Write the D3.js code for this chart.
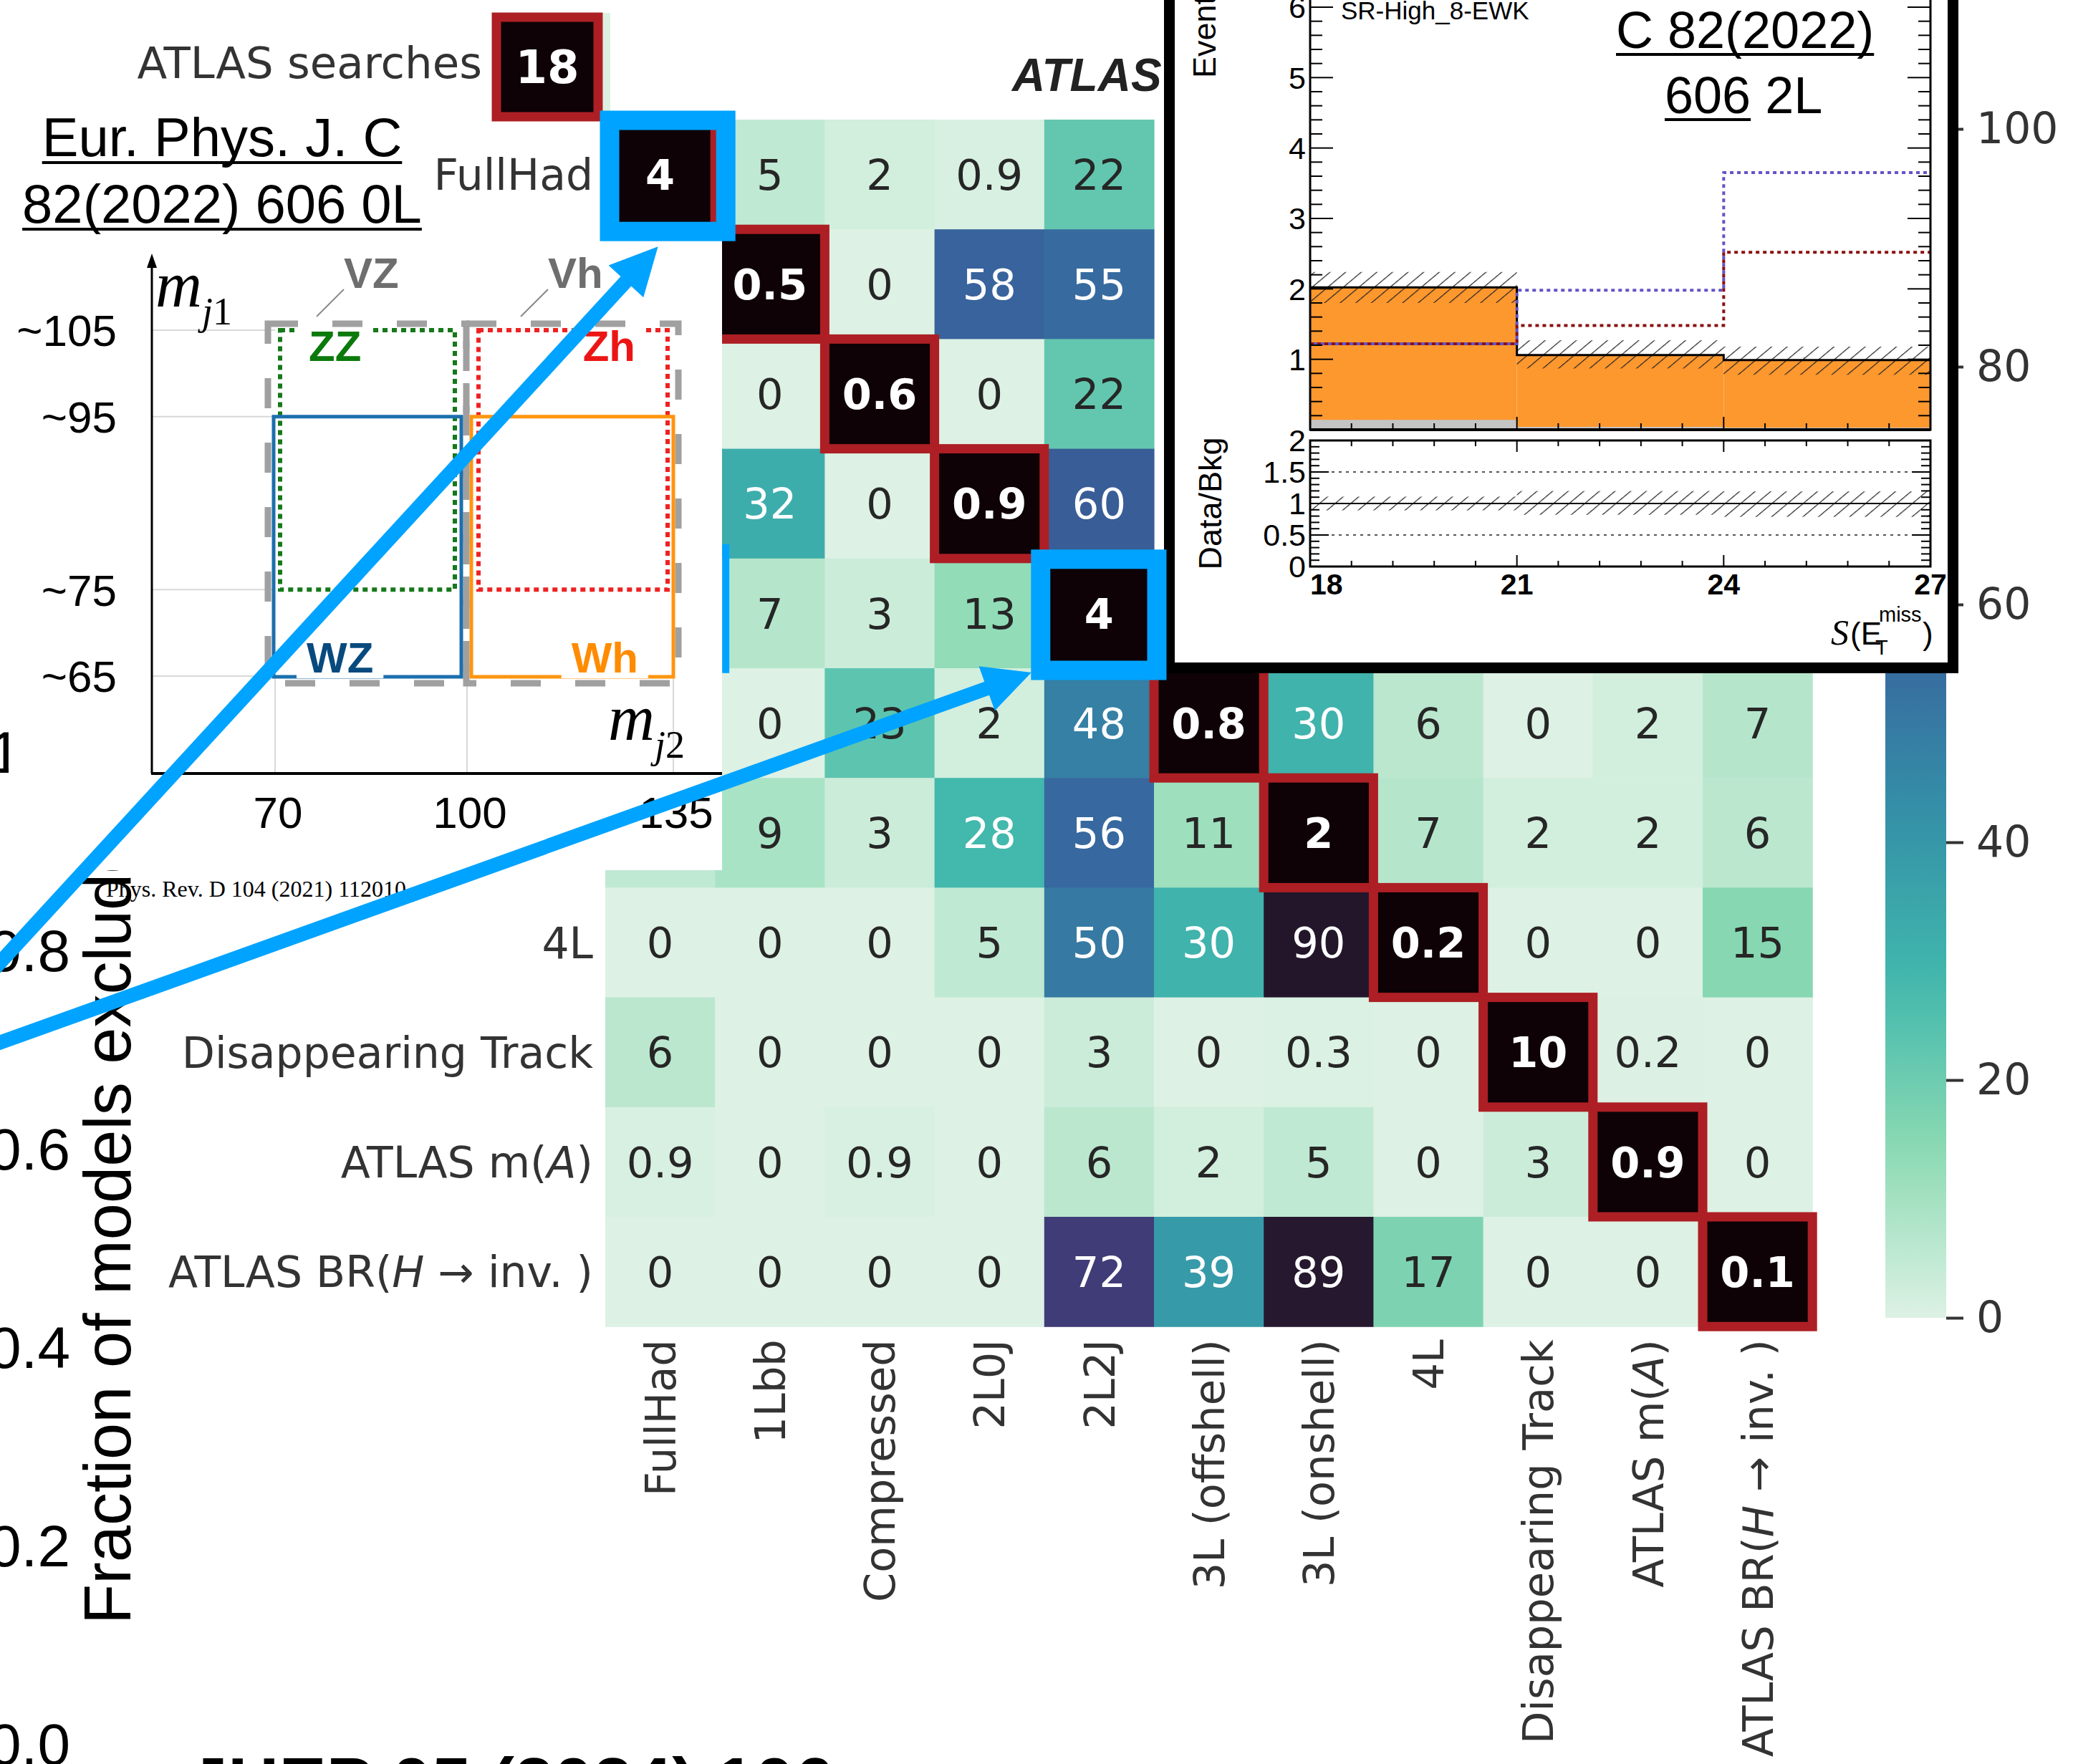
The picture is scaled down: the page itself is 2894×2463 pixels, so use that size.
<!DOCTYPE html>
<html>
<head>
<meta charset="utf-8">
<script src="https://cdn.jsdelivr.net/npm/d3@7/dist/d3.min.js"></script>
<style>
  body { margin: 0; background: #fff; }
</style>
</head>
<body>
<div id="chart"></div>
<script>
// searches on both axes of the overlap matrix ($..$ = italic)
var searches = ["FullHad", "1Lbb", "Compressed", "2L0J", "2L2J", "3L (offshell)", "3L (onshell)", "4L",
  "Disappearing Track", "ATLAS m($A$)", "ATLAS BR($H$ → inv. )"];
// overlap in %, null = cell hidden under the pasted insets
var overlap = [
  [4, 5, 2, 0.9, 22, null, null, null, null, null, null],
  [null, 0.5, 0, 58, 55, null, null, null, null, null, null],
  [null, 0, 0.6, 0, 22, null, null, null, null, null, null],
  [null, 32, 0, 0.9, 60, null, null, null, null, null, null],
  [null, 7, 3, 13, 4, null, null, null, null, null, null],
  [null, 0, 23, 2, 48, 0.8, 30, 6, 0, 2, 7],
  [5, 9, 3, 28, 56, 11, 2, 7, 2, 2, 6],
  [0, 0, 0, 5, 50, 30, 90, 0.2, 0, 0, 15],
  [6, 0, 0, 0, 3, 0, 0.3, 0, 10, 0.2, 0],
  [0.9, 0, 0.9, 0, 6, 2, 5, 0, 3, 0.9, 0],
  [0, 0, 0, 0, 72, 39, 89, 17, 0, 0, 0.1]
];
var highlighted = [0, 4];   // diagonal cells boxed in blue
var cbarTicks = [0, 20, 40, 60, 80, 100];
var fracTicks = [1.0, 0.8, 0.6, 0.4, 0.2, 0.0];

// mass-window sketch (0L paper)
var mj1Ticks = [65, 75, 95, 105];
var mj2Ticks = [70, 100, 135];
var windowNames = ["VZ", "Vh", "ZZ", "Zh", "WZ", "Wh"];
var windowJ2 = [[70, 100], [100, 135], [70, 100], [100, 135], [70, 100], [100, 135]];
var windowJ1 = [[65, 105], [65, 105], [75, 105], [75, 105], [65, 95], [65, 95]];

// SR-High_8-EWK histogram (2L paper)
var binEdges = [18, 21, 24, 27];
var bkgTotal = [2.02, 1.06, 0.99];
var bkgOther = [0.14, 0.04, 0.03];
var bkgUncLo = [1.80, 0.87, 0.78];
var bkgUncHi = [2.24, 1.27, 1.18];
var sigBlue = [1.22, 1.98, 3.65];
var sigRed = [1.22, 1.48, 2.52];
var eventTicks = [1, 2, 3, 4, 5, 6];
var ratioTicks = [0, 0.5, 1, 1.5, 2];
var ratioTickLabels = ["0", "0.5", "1", "1.5", "2"];
var metTicks = [18, 21, 24, 27];

var W = 2894, H = 2463;
var dejavu = "DejaVu Sans, sans-serif";
var helv = "Liberation Sans, Arial, sans-serif";
var serif = "Liberation Serif, Times New Roman, serif";
var blue = "#00a3ff";

// area covered by the pasted mass-window sketch
var sketch = { x0: 12, x1: 1008, y0: 320, y1: 1215 };
var underSketch = (px, py) => px > sketch.x0 && px < sketch.x1 && py > sketch.y0 && py < sketch.y1;

var svg = d3.select("#chart").append("svg").attr("width", W).attr("height", H);
svg.append("rect").attr("width", W).attr("height", H).attr("fill", "#fff");
var defs = svg.append("defs");

function richText(sel, str) {
  sel.each(function() {
    var t = d3.select(this);
    str.split("$").forEach(function(part, i) {
      if (!part) return;
      t.append("tspan").style("font-style", i % 2 ? "italic" : null).text(part);
    });
  });
}

// ---- leftover axis of the fraction plot (left edge) ----
var fy = d3.scaleLinear().domain([0, 1]).range([2434, 1049]);
svg.append("g").selectAll("text").data(fracTicks).join("text")
  .attr("x", 98).attr("y", d => fy(d)).attr("dy", "0.36em")
  .attr("text-anchor", "end")
  .style("font-family", helv).style("font-size", "82px")
  .text(d => d.toFixed(1));
svg.append("text")
  .attr("transform", "translate(182,2268) rotate(-90)")
  .style("font-family", helv).style("font-size", "92px")
  .text("Fraction of models excluded");

svg.append("text").attr("x", 263).attr("y", 2523)
  .style("font-family", helv).style("font-size", "99px").style("font-weight", "bold")
  .text("JHEP 05 (2024) 106");

svg.append("text").attr("x", 1413).attr("y", 127)
  .style("font-family", helv).style("font-size", "64px")
  .style("font-weight", "bold").style("font-style", "italic")
  .attr("fill", "#222").text("ATLAS");

// ---- overlap heatmap ----
var cell = 153.2, hx0 = 845, hy0 = 167;
var x = d3.scaleBand().domain(d3.range(searches.length)).range([hx0, hx0 + cell * searches.length]);
var y = d3.scaleBand().domain(d3.range(searches.length)).range([hy0, hy0 + cell * searches.length]);

// mako_r
var mako = ["#ddf1e4", "#8bdab2", "#40b7ad", "#348fa7", "#37659e", "#413d7b", "#2e1e3b", "#0b0405"];
var color = d3.scaleLinear().domain(mako.map((c, i) => i * 100 / 7)).range(mako)
  .interpolate(d3.interpolateRgb).clamp(true);
var diagFill = "#0e0206";

function lum(c) {
  var r = d3.rgb(c);
  var f = v => { v /= 255; return v <= 0.03928 ? v / 12.92 : Math.pow((v + 0.055) / 1.055, 2.4); };
  return 0.2126 * f(r.r) + 0.7152 * f(r.g) + 0.0722 * f(r.b);
}

var cells = [];
overlap.forEach((row, r) => row.forEach((v, c) => { if (v !== null) cells.push({ r: r, c: c, v: v }); }));

var hm = svg.append("g");
hm.selectAll("rect.cell").data(cells).join("rect").attr("class", "cell")
  .attr("x", d => x(d.c)).attr("y", d => y(d.r))
  .attr("width", cell + 0.6).attr("height", cell + 0.6)
  .attr("fill", d => d.r === d.c ? diagFill : color(d.v));

hm.selectAll("text.ann")
  .data(cells.filter(d => !underSketch(x(d.c) + cell / 2, y(d.r) + cell / 2)))
  .join("text").attr("class", "ann")
  .attr("x", d => x(d.c) + cell / 2).attr("y", d => y(d.r) + cell / 2)
  .attr("dy", "0.36em").attr("text-anchor", "middle")
  .style("font-family", dejavu).style("font-size", "59px")
  .style("font-weight", d => d.r === d.c ? "bold" : null)
  .attr("fill", d => d.r === d.c ? "#fff" : (lum(color(d.v)) > 0.408 ? "#262626" : "#fff"))
  .text(d => String(d.v));

hm.selectAll("rect.diag").data(cells.filter(d => d.r === d.c)).join("rect").attr("class", "diag")
  .attr("x", d => x(d.c)).attr("y", d => y(d.r))
  .attr("width", cell).attr("height", cell)
  .attr("fill", "none").attr("stroke", "#ad1f24").attr("stroke-width", 13);

// row labels of rows 1-6 sit under the sketch
var rowIdx = d3.range(searches.length).filter(i => !underSketch(hx0 - 100, y(i) + cell / 2));
hm.selectAll("text.rowlab").data(rowIdx).join("text").attr("class", "rowlab")
  .attr("x", hx0 - 17).attr("y", i => y(i) + cell / 2).attr("dy", "0.36em")
  .attr("text-anchor", "end").attr("fill", "#333")
  .style("font-family", dejavu).style("font-size", "60px")
  .each(function(i) { richText(d3.select(this), searches[i]); });

hm.selectAll("text.collab").data(searches).join("text").attr("class", "collab")
  .attr("transform", (d, i) => "translate(" + (x(i) + cell / 2) + "," + (hy0 + cell * searches.length + 18) + ") rotate(-90)")
  .attr("dy", "0.36em").attr("text-anchor", "end").attr("fill", "#333")
  .style("font-family", dejavu).style("font-size", "59px")
  .each(function(d) { richText(d3.select(this), d); });

// colorbar
var cy = d3.scaleLinear().domain([0, 100]).range([1840, 180]);
var grad = defs.append("linearGradient").attr("id", "cbar")
  .attr("x1", 0).attr("y1", 1).attr("x2", 0).attr("y2", 0);
d3.range(0, 101, 5).forEach(v => grad.append("stop").attr("offset", v / 100).attr("stop-color", color(v)));
svg.append("rect").attr("x", 2632).attr("y", cy(100)).attr("width", 85).attr("height", cy(0) - cy(100))
  .attr("fill", "url(#cbar)");
var cbAxis = svg.append("g").attr("transform", "translate(2717,0)")
  .call(d3.axisRight(cy).tickValues(cbarTicks).tickSize(24).tickPadding(18));
cbAxis.select(".domain").remove();
cbAxis.selectAll("line").attr("stroke", "#333").attr("stroke-width", 4);
cbAxis.selectAll("text").attr("fill", "#333").style("font-family", dejavu).style("font-size", "60px");

// ---- mass-window sketch ----
var mx = d3.scaleLinear().domain([70, 100, 135]).range([384, 652, 940]);
var my = d3.scaleLinear().domain([65, 105]).range([944, 461]);
var md = svg.append("g");
md.append("rect").attr("x", sketch.x0).attr("y", sketch.y0)
  .attr("width", sketch.x1 - sketch.x0).attr("height", sketch.y1 - sketch.y0).attr("fill", "#fff");

md.selectAll("line.hg").data(mj1Ticks).join("line").attr("class", "hg")
  .attr("x1", 212).attr("x2", mx(70)).attr("y1", d => my(d)).attr("y2", d => my(d))
  .attr("stroke", "#d8d8d8").attr("stroke-width", 2);
md.selectAll("line.vg").data(mj2Ticks).join("line").attr("class", "vg")
  .attr("x1", d => mx(d)).attr("x2", d => mx(d)).attr("y1", 1080).attr("y2", my(65))
  .attr("stroke", "#d8d8d8").attr("stroke-width", 2);

md.append("line").attr("x1", 212).attr("x2", 212).attr("y1", 1080).attr("y2", 368)
  .attr("stroke", "#000").attr("stroke-width", 3);
md.append("polygon").attr("points", "212,354 205,374 219,374").attr("fill", "#000");
md.append("line").attr("x1", 211).attr("x2", 1008).attr("y1", 1080).attr("y2", 1080)
  .attr("stroke", "#000").attr("stroke-width", 4);

md.selectAll("text.yl").data(mj1Ticks).join("text").attr("class", "yl")
  .attr("x", 163).attr("y", d => my(d)).attr("dy", "0.36em").attr("text-anchor", "end")
  .style("font-family", helv).style("font-size", "62px").text(d => "~" + d);
md.selectAll("text.xl").data(mj2Ticks).join("text").attr("class", "xl")
  .attr("x", d => mx(d) + 4).attr("y", 1156).attr("text-anchor", "middle")
  .style("font-family", helv).style("font-size", "62px").text(d => d);

var winStyle = {
  VZ: { c: "#a0a0a0", w: 9, dash: "42,48", pad: [-10, -1, -9, 10], lab: "#6e6e6e", at: "start", lx: 106, ly: -50, lead: true },
  Vh: { c: "#a0a0a0", w: 9, dash: "42,48", pad: [-1, 7, -9, 10], lab: "#6e6e6e", at: "start", lx: 114, ly: -50, lead: true },
  ZZ: { c: "#16781a", w: 6, dash: "7,6", pad: [7, -17, 0, 0], lab: "#0b7a0b", at: "start", lx: 40, ly: 43 },
  Zh: { c: "#ee2222", w: 6, dash: "7,6", pad: [16, -8, 0, 0], lab: "#ec1515", at: "end", lx: -45, ly: 43 },
  WZ: { c: "#1c6fae", w: 5, dash: null, pad: [-2, -8, 0, 1], lab: "#084a7e", at: "start", lx: 46, ly: -6 },
  Wh: { c: "#ff9510", w: 5, dash: null, pad: [6, 0, 0, 1], lab: "#ff8c00", at: "end", lx: -49, ly: -6 }
};
var wins = windowNames.map((n, i) => {
  var s = winStyle[n];
  return { name: n, s: s,
    x0: mx(windowJ2[i][0]) + s.pad[0], x1: mx(windowJ2[i][1]) + s.pad[1],
    yt: my(windowJ1[i][1]) + s.pad[2], yb: my(windowJ1[i][0]) + s.pad[3] };
});
md.selectAll("rect.win").data(wins).join("rect").attr("class", "win")
  .attr("x", d => d.x0).attr("y", d => d.yt).attr("width", d => d.x1 - d.x0).attr("height", d => d.yb - d.yt)
  .attr("fill", "none").attr("stroke", d => d.s.c).attr("stroke-width", d => d.s.w)
  .attr("stroke-dasharray", d => d.s.dash);

wins.forEach(d => {
  var s = d.s;
  var lx = (s.at === "start" ? d.x0 : d.x1) + s.lx;
  var base = s.lead ? d.yt + s.ly : (s.ly > 0 ? d.yt + s.ly : d.yb + s.ly);
  var t = md.append("text").attr("x", lx).attr("y", base).attr("text-anchor", s.at)
    .style("font-family", helv).style("font-size", "60px").style("font-weight", "bold")
    .attr("fill", s.lab).text(d.name);
  if (s.lead) {
    md.append("line").attr("x1", lx).attr("y1", base + 2).attr("x2", lx - 38).attr("y2", base + 40)
      .attr("stroke", "#8a8a8a").attr("stroke-width", 2);
  } else {
    // label breaks the window line
    var bb = t.node().getBBox();
    var top = s.ly > 0 ? d.yt - 4 : bb.y;
    md.insert("rect", function() { return t.node(); })
      .attr("x", bb.x - 14).attr("y", top).attr("width", bb.width + 28)
      .attr("height", (s.ly > 0 ? base : base + 8) - top).attr("fill", "#fff");
  }
});

var mj1 = md.append("text").attr("x", 217).attr("y", 428).style("font-family", serif).style("font-size", "90px");
mj1.append("tspan").style("font-style", "italic").text("m");
mj1.append("tspan").attr("dy", 25).style("font-size", "54px").style("font-style", "italic").text("j");
mj1.append("tspan").style("font-size", "54px").text("1");
var mj2 = md.append("text").attr("x", 849).attr("y", 1033).style("font-family", serif).style("font-size", "90px");
mj2.append("tspan").style("font-style", "italic").text("m");
mj2.append("tspan").attr("dy", 25).style("font-size", "54px").style("font-style", "italic").text("j");
mj2.append("tspan").style("font-size", "54px").text("2");

svg.append("text").attr("x", 148).attr("y", 1252)
  .style("font-family", serif).style("font-size", "32px")
  .text("Phys. Rev. D 104 (2021) 112010");

// paper reference, 0L
[["Eur. Phys. J. C", 218], ["82(2022) 606 0L", 311]].forEach(p => {
  var t = svg.append("text").attr("x", 310).attr("y", p[1]).attr("text-anchor", "middle")
    .style("font-family", helv).style("font-size", "76px").text(p[0]);
  var w = t.node().getComputedTextLength();
  svg.append("line").attr("x1", 310 - w / 2).attr("x2", 310 + w / 2).attr("y1", p[1] + 9).attr("y2", p[1] + 9)
    .attr("stroke", "#000").attr("stroke-width", 4);
});

// "ATLAS searches" summary cell
svg.append("rect").attr("x", 842).attr("y", 18).attr("width", 10).attr("height", 140).attr("fill", "#dcf0e2");
svg.append("rect").attr("x", 693).attr("y", 24).attr("width", 142).attr("height", 139)
  .attr("fill", diagFill).attr("stroke", "#ad1f24").attr("stroke-width", 13);
svg.append("text").attr("x", 764).attr("y", 93).attr("dy", "0.36em").attr("text-anchor", "middle")
  .style("font-family", dejavu).style("font-size", "64px").style("font-weight", "bold")
  .attr("fill", "#fff").text("18");
svg.append("text").attr("x", 673).attr("y", 109).attr("text-anchor", "end").attr("fill", "#333")
  .style("font-family", dejavu).style("font-size", "61px").text("ATLAS searches");

// ---- histogram inset ----
var ins = svg.append("g");
ins.append("rect").attr("x", 1632.5).attr("y", -20).attr("width", 1094).attr("height", 952.5)
  .attr("fill", "#fff").attr("stroke", "#000").attr("stroke-width", 15);

var hx = d3.scaleLinear().domain([18, 27]).range([1829, 2695]);
var hy = d3.scaleLinear().domain([0, 6]).range([600, 10]);
var ry = d3.scaleLinear().domain([0, 2]).range([791, 615]);

var pat = defs.append("pattern").attr("id", "hatch").attr("patternUnits", "userSpaceOnUse")
  .attr("width", 14).attr("height", 14).attr("patternTransform", "rotate(50)");
pat.append("line").attr("x1", 0).attr("y1", 0).attr("x2", 0).attr("y2", 14)
  .attr("stroke", "#222").attr("stroke-width", 2.4);

var bins = d3.range(bkgTotal.length);
var bx = i => hx(binEdges[i]), bw = i => hx(binEdges[i + 1]) - hx(binEdges[i]);
ins.selectAll("rect.bkg").data(bins).join("rect").attr("class", "bkg")
  .attr("x", bx).attr("width", bw).attr("y", i => hy(bkgTotal[i])).attr("height", i => hy(0) - hy(bkgTotal[i]))
  .attr("fill", "#fd982f");
ins.selectAll("rect.oth").data(bins).join("rect").attr("class", "oth")
  .attr("x", bx).attr("width", bw).attr("y", i => hy(bkgOther[i])).attr("height", i => hy(0) - hy(bkgOther[i]))
  .attr("fill", "#c4c4c4");
ins.selectAll("rect.unc").data(bins).join("rect").attr("class", "unc")
  .attr("x", bx).attr("width", bw).attr("y", i => hy(bkgUncHi[i])).attr("height", i => hy(bkgUncLo[i]) - hy(bkgUncHi[i]))
  .attr("fill", "url(#hatch)");

function steps(vals, ys) {
  var pts = binEdges.map((e, i) => [e, vals[Math.min(i, vals.length - 1)]]);
  return d3.line().curve(d3.curveStepAfter).x(d => hx(d[0])).y(d => ys(d[1]))(pts);
}
ins.append("path").attr("d", steps(bkgTotal, hy)).attr("fill", "none").attr("stroke", "#000").attr("stroke-width", 3);
ins.append("path").attr("d", steps(sigRed, hy)).attr("fill", "none").attr("stroke", "#8b1010")
  .attr("stroke-width", 4).attr("stroke-dasharray", "5,5");
ins.append("path").attr("d", steps(sigBlue, hy)).attr("fill", "none").attr("stroke", "#6353c8")
  .attr("stroke-width", 4).attr("stroke-dasharray", "5,5").attr("stroke-dashoffset", 5);

// ratio panel
ins.selectAll("rect.runc").data(bins).join("rect").attr("class", "runc")
  .attr("x", bx).attr("width", bw)
  .attr("y", i => ry(bkgUncHi[i] / bkgTotal[i]))
  .attr("height", i => ry(bkgUncLo[i] / bkgTotal[i]) - ry(bkgUncHi[i] / bkgTotal[i]))
  .attr("fill", "url(#hatch)");
[0.5, 1.5].forEach(v => ins.append("line").attr("x1", hx(18)).attr("x2", hx(27)).attr("y1", ry(v)).attr("y2", ry(v))
  .attr("stroke", "#555").attr("stroke-width", 2).attr("stroke-dasharray", "4,6"));
ins.append("line").attr("x1", hx(18)).attr("x2", hx(27)).attr("y1", ry(1)).attr("y2", ry(1))
  .attr("stroke", "#000").attr("stroke-width", 2);

// frames
ins.append("rect").attr("x", hx(18)).attr("y", -20).attr("width", hx(27) - hx(18)).attr("height", hy(0) + 20)
  .attr("fill", "none").attr("stroke", "#000").attr("stroke-width", 3);
ins.append("line").attr("x1", hx(18)).attr("x2", hx(27)).attr("y1", hy(0)).attr("y2", hy(0))
  .attr("stroke", "#000").attr("stroke-width", 4);
ins.append("rect").attr("x", hx(18)).attr("y", ry(2)).attr("width", hx(27) - hx(18)).attr("height", ry(0) - ry(2))
  .attr("fill", "none").attr("stroke", "#000").attr("stroke-width", 3);

// ticks, ROOT style (inside)
function yTicks(ys, vals, len) {
  ins.selectAll(null).data(vals).join("line")
    .attr("x1", hx(18)).attr("x2", hx(18) + len).attr("y1", d => ys(d)).attr("y2", d => ys(d))
    .attr("stroke", "#000").attr("stroke-width", 2);
  ins.selectAll(null).data(vals).join("line")
    .attr("x1", hx(27)).attr("x2", hx(27) - len).attr("y1", d => ys(d)).attr("y2", d => ys(d))
    .attr("stroke", "#000").attr("stroke-width", 2);
}
function xTicks(yPos, dir, vals, len) {
  ins.selectAll(null).data(vals).join("line")
    .attr("x1", d => hx(d)).attr("x2", d => hx(d)).attr("y1", yPos).attr("y2", yPos + dir * len)
    .attr("stroke", "#000").attr("stroke-width", 2);
}
var isMajorE = v => Math.abs(v - Math.round(v)) < 1e-6;
yTicks(hy, d3.range(0, 6.01, 1), 32);
yTicks(hy, d3.range(0, 6.01, 0.2).filter(v => !isMajorE(v)), 17);
yTicks(ry, d3.range(0, 2.01, 0.5), 26);
yTicks(ry, d3.range(0, 2.01, 0.1).filter(v => !isMajorE(v * 2)), 13);
var xMinor = d3.range(18, 27.01, 0.6).filter(v => !metTicks.some(m => Math.abs(m - v) < 1e-6));
xTicks(hy(0), -1, metTicks, 18); xTicks(hy(0), -1, xMinor, 9);
xTicks(ry(0), -1, metTicks, 16); xTicks(ry(0), -1, xMinor, 8);
xTicks(ry(2), 1, metTicks, 16); xTicks(ry(2), 1, xMinor, 8);

ins.selectAll("text.ev").data(eventTicks).join("text").attr("class", "ev")
  .attr("x", hx(18) - 6).attr("y", d => hy(d)).attr("dy", "0.36em").attr("text-anchor", "end")
  .style("font-family", helv).style("font-size", "43px").text(d => d);
ins.selectAll("text.rt").data(ratioTicks).join("text").attr("class", "rt")
  .attr("x", hx(18) - 6).attr("y", d => ry(d)).attr("dy", "0.36em").attr("text-anchor", "end")
  .style("font-family", helv).style("font-size", "43px").text((d, i) => ratioTickLabels[i]);
ins.selectAll("text.mt").data(metTicks).join("text").attr("class", "mt")
  .attr("x", d => hx(d)).attr("y", 830)
  .attr("text-anchor", (d, i) => i === 0 ? "start" : "middle")
  .style("font-family", helv).style("font-size", "41px").style("font-weight", "bold").text(d => d);

ins.append("text").attr("transform", "translate(1697,109) rotate(-90)")
  .style("font-family", helv).style("font-size", "45px").text("Events");
ins.append("text").attr("transform", "translate(1705," + ry(1) + ") rotate(-90)").attr("text-anchor", "middle")
  .style("font-family", helv).style("font-size", "45px").text("Data/Bkg");
ins.append("text").attr("x", 1872).attr("y", 27)
  .style("font-family", helv).style("font-size", "35px").text("SR-High_8-EWK");

// x title S(E_T^miss), one text with positioned pieces
var xt = ins.append("text").attr("x", 2556).attr("y", 900).style("font-family", helv).style("font-size", "44px");
xt.append("tspan").style("font-family", serif).style("font-style", "italic").style("font-size", "50px").text("S");
xt.append("tspan").attr("x", 2583).text("(E");
xt.append("tspan").attr("x", 2618).attr("y", 914).style("font-size", "29px").text("T");
xt.append("tspan").attr("x", 2623).attr("y", 868).style("font-size", "29px").text("miss");
xt.append("tspan").attr("x", 2684).attr("y", 900).text(")");

// paper reference, 2L
var r1 = ins.append("text").attr("x", 2256).attr("y", 67).style("font-family", helv).style("font-size", "72px").text("C 82(2022)");
var w1 = r1.node().getComputedTextLength();
ins.append("line").attr("x1", 2256).attr("x2", 2256 + w1).attr("y1", 76).attr("y2", 76).attr("stroke", "#000").attr("stroke-width", 4);
var r2 = ins.append("text").attr("x", 2324).attr("y", 158).style("font-family", helv).style("font-size", "72px");
r2.append("tspan").text("606");
r2.append("tspan").text(" 2L");
var w2 = r2.select("tspan").node().getComputedTextLength();
ins.append("line").attr("x1", 2324).attr("x2", 2324 + w2).attr("y1", 167).attr("y2", 167).attr("stroke", "#000").attr("stroke-width", 4);

// ---- blue highlights and arrows ----
var hl = svg.append("g");
var boxNudge = [6, -5];
highlighted.forEach((k, i) => {
  hl.append("rect").attr("x", x(k) + boxNudge[i]).attr("y", y(k) + 1)
    .attr("width", cell + 9).attr("height", cell + 2)
    .attr("fill", "none").attr("stroke", blue).attr("stroke-width", 27);
});
hl.append("rect").attr("x", x(1) + 10).attr("y", y(4) - 20).attr("width", 10).attr("height", 180).attr("fill", blue);

function arrow(x0, y0, x1, y1) {
  var dx = x1 - x0, dy = y1 - y0, L = Math.hypot(dx, dy), ux = dx / L, uy = dy / L;
  var hlen = 66, hw = 33;
  var bxp = x1 - ux * hlen, byp = y1 - uy * hlen;
  hl.append("line").attr("x1", x0).attr("y1", y0).attr("x2", bxp + ux * 4).attr("y2", byp + uy * 4)
    .attr("stroke", blue).attr("stroke-width", 20);
  hl.append("polygon")
    .attr("points", [[x1, y1], [bxp - uy * hw, byp + ux * hw], [bxp + uy * hw, byp - ux * hw]].join(" "))
    .attr("fill", blue);
}
arrow(-12, 1357, x(0) + cell / 2 - 3, y(0) + cell + 24);
arrow(-12, 1460, x(4) - 18, y(4) + cell + 6);
</script>
</body>
</html>
